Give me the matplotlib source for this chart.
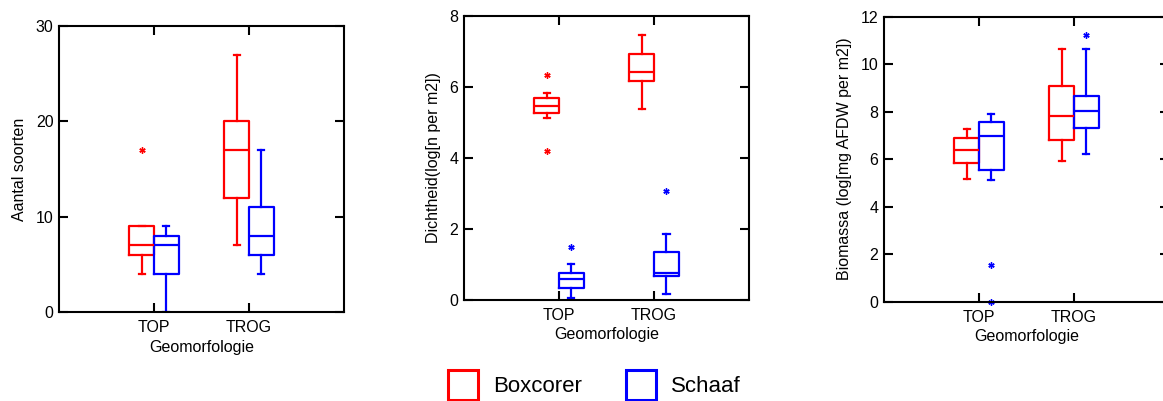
import matplotlib.pyplot as plt
from matplotlib.lines import Line2D

plt.rcParams['font.family'] = ['Liberation Sans', 'DejaVu Sans']

categories = ["TOP", "TROG"]
series = ["Boxcorer", "Schaaf"]
colors = ["#FF0000", "#0000FF"]

# per category: whislo, q1, median, q3, whishi
aantal_boxcorer = [[4, 6, 7, 9, 9], [7, 12, 17, 20, 27]]
aantal_boxcorer_fliers = [[17], []]
aantal_schaaf = [[0, 4, 7, 8, 9], [4, 6, 8, 11, 17]]
aantal_schaaf_fliers = [[], []]

dicht_boxcorer = [[5.13, 5.27, 5.47, 5.69, 5.82], [5.39, 6.16, 6.42, 6.92, 7.47]]
dicht_boxcorer_fliers = [[6.35, 4.21], []]
dicht_schaaf = [[0.07, 0.33, 0.58, 0.77, 1.00], [0.17, 0.68, 0.77, 1.35, 1.85]]
dicht_schaaf_fliers = [[1.49], [3.06]]

bio_boxcorer = [[5.15, 5.85, 6.39, 6.91, 7.27], [5.92, 6.81, 7.82, 9.09, 10.64]]
bio_boxcorer_fliers = [[], []]
bio_schaaf = [[5.12, 5.53, 6.96, 7.58, 7.92], [6.20, 7.31, 8.04, 8.67, 10.64]]
bio_schaaf_fliers = [[1.54, 0.0], [11.21]]

panels = [
    ("Aantal soorten", (0, 30), 10, [aantal_boxcorer, aantal_schaaf], [aantal_boxcorer_fliers, aantal_schaaf_fliers]),
    ("Dichtheid(log[n per m2])", (0, 8), 2, [dicht_boxcorer, dicht_schaaf], [dicht_boxcorer_fliers, dicht_schaaf_fliers]),
    ("Biomassa (log[mg AFDW per m2])", (0, 12), 2, [bio_boxcorer, bio_schaaf], [bio_boxcorer_fliers, bio_schaaf_fliers]),
]

rects = [
    [0.0507, 0.2219, 0.2451, 0.7132],
    [0.3990, 0.2519, 0.2451, 0.7080],
    [0.7601, 0.2476, 0.2451, 0.7110],
]

fs = 11.5
fig = plt.figure(figsize=(11.63, 4.01), dpi=100)

for rect, (ylabel, ylim, step, boxes, fliers) in zip(rects, panels):
    ax = fig.add_axes(rect)
    for s, (data, fl, col) in enumerate(zip(boxes, fliers, colors)):
        stats = []
        for (lo, q1, med, q3, hi), f in zip(data, fl):
            stats.append(dict(whislo=lo, q1=q1, med=med, q3=q3, whishi=hi, fliers=f))
        offset = -0.13 if s == 0 else 0.13
        pos = [i + 1 + offset for i in range(len(categories))]
        lp = dict(color=col, linewidth=1.6)
        art = ax.bxp(stats, positions=pos, widths=0.26, capwidths=0.065,
                     boxprops=lp, whiskerprops=lp, capprops=lp, medianprops=lp,
                     flierprops=dict(marker=(6, 2, 0), markeredgecolor=col, markersize=4.5,
                                     markeredgewidth=1.0, linestyle='none'),
                     manage_ticks=False)
        for fl_line in art['fliers']:
            fl_line.set_clip_on(False)
    ax.set_xlim(0, 3)
    ax.set_ylim(*ylim)
    ax.set_xticks([1, 2])
    ax.set_xticklabels(categories)
    ax.set_yticks(range(ylim[0], ylim[1] + 1, step))
    ax.tick_params(direction='in', length=6.5, width=1.5, top=True, right=True,
                   labelsize=fs)
    ax.tick_params(axis='x', pad=6)
    ax.tick_params(axis='y', pad=4)
    for sp in ax.spines.values():
        sp.set_linewidth(1.5)
    ax.set_xlabel("Geomorfologie", fontsize=fs, labelpad=3)
    ax.set_ylabel(ylabel, fontsize=fs, labelpad=6)

handles = [Line2D([], [], linestyle='none', marker='s', markersize=22,
                  markerfacecolor='white', markeredgecolor=c, markeredgewidth=2.2)
           for c in colors]
fig.legend(handles, series, loc='center', bbox_to_anchor=(0.508, 0.035), ncol=2,
           frameon=False, fontsize=16, handletextpad=0.35, columnspacing=1.62)

fig.savefig("out.png", dpi=100)
